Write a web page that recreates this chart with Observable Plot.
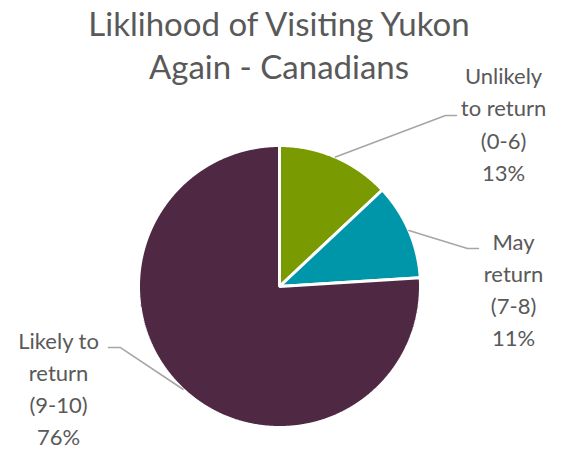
<!DOCTYPE html>
<html><head><meta charset="utf-8">
<script src="https://cdn.jsdelivr.net/npm/d3@7"></script>
<script src="https://cdn.jsdelivr.net/npm/@observablehq/plot@0.6"></script>
<style>body{margin:0;background:#fff;} svg{display:block;}</style>
</head><body><div id="chart"></div>
<script>
const categories = ["Unlikely to return (0-6)", "May return (7-8)", "Likely to return (9-10)"];
const labelLines = [["Unlikely", "to return", "(0-6)"], ["May", "return", "(7-8)"], ["Likely to", "return", "(9-10)"]];
const values = [13, 11, 76];
const colors = ["#7a9a01", "#0096a9", "#4f2944"];
const titleText = "Liklihood of Visiting Yukon\nAgain - Canadians";

// layout (unit = pie radius)
const W = 563, H = 454, R = 141, CX = 279, CY = 286;
const labelPos = [[1.589, 1.165], [1.66, -0.01], [-1.567, -0.71]];
const elbows = [[[1.177, 1.213], [1.255, 1.213]], [[1.333, 0.27], [1.411, 0.27]], [[-1.128, -0.433], [-1.213, -0.433]]];

const total = d3.sum(values);
const pie = d3.pie().sort(null).value(d => d)(values);
const slicePts = [];
pie.forEach((p, i) => {
  slicePts.push({cat: categories[i], x: 0, y: 0});
  const n = Math.max(4, Math.ceil((p.endAngle - p.startAngle) / 0.005));
  for (let k = 0; k <= n; k++) {
    const a = p.startAngle + (p.endAngle - p.startAngle) * k / n;
    slicePts.push({cat: categories[i], x: Math.sin(a), y: Math.cos(a)});
  }
});
const leaderPts = [];
pie.forEach((p, i) => {
  const m = (p.startAngle + p.endAngle) / 2;
  leaderPts.push({cat: categories[i], x: Math.sin(m), y: Math.cos(m)});
  elbows[i].forEach(([x, y]) => leaderPts.push({cat: categories[i], x, y}));
});
const labels = categories.map((c, i) => ({
  x: labelPos[i][0], y: labelPos[i][1],
  text: labelLines[i].join("\n") + "\n" + Math.round(values[i] / total * 100) + "%"
}));

const chart = Plot.plot({
  width: W, height: H,
  margin: 0,
  x: {domain: [-CX / R, (W - CX) / R], axis: null},
  y: {domain: [-(H - CY) / R, CY / R], axis: null},
  color: {domain: categories, range: colors},
  style: {fontFamily: "Lato, 'Open Sans', sans-serif", background: "#fff"},
  marks: [
    Plot.line(slicePts, {x: "x", y: "y", z: "cat", fill: "cat", stroke: "white", strokeWidth: 3, curve: "linear-closed", strokeLinejoin: "miter"}),
    Plot.line(leaderPts, {x: "x", y: "y", z: "cat", stroke: "#a6a6a6", strokeWidth: 1.6}),
    Plot.text(labels, {x: "x", y: "y", text: "text", fontSize: 22, lineHeight: 1.46, fill: "#595959", lineAnchor: "middle", textAnchor: "middle"}),
    Plot.text([titleText], {frameAnchor: "top", dx: -3, dy: 43, text: d => d, fontSize: 33, lineHeight: 1.3, fill: "#595959", lineAnchor: "middle", textAnchor: "middle"})
  ]
});
document.getElementById("chart").appendChild(chart);
</script></body></html>
